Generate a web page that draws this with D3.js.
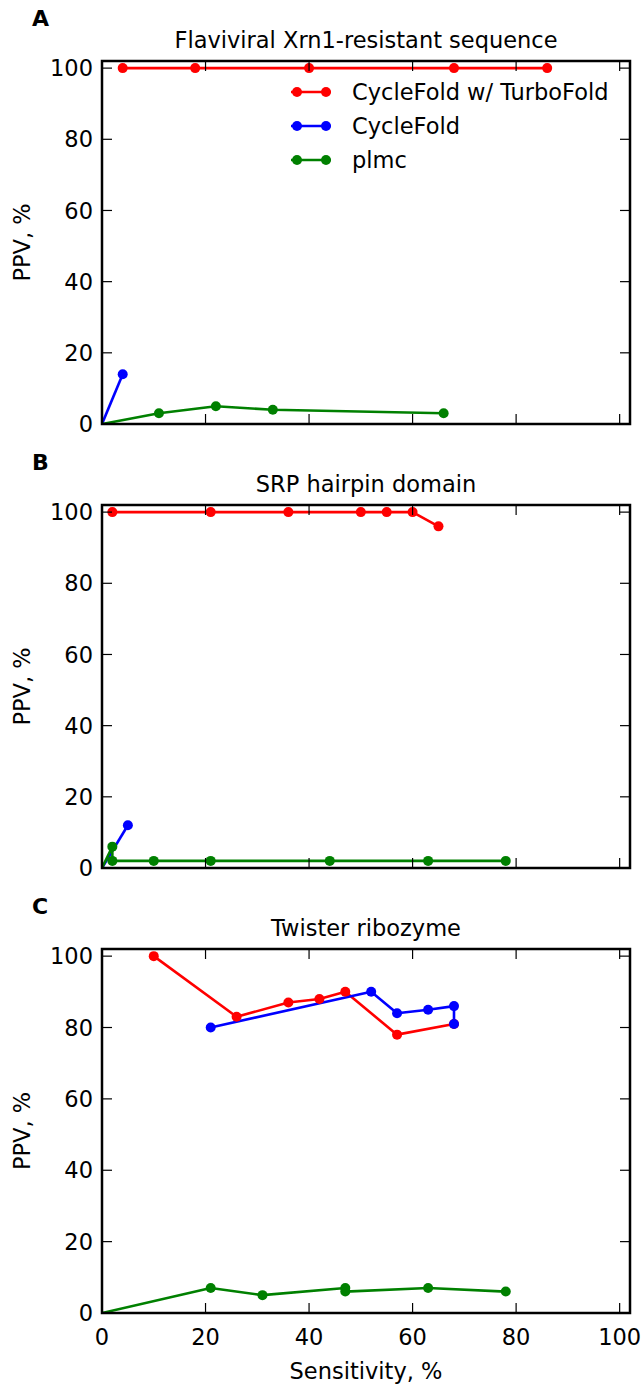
<!DOCTYPE html>
<html><head><meta charset="utf-8">
<script src="https://cdn.jsdelivr.net/npm/d3@7"></script>
<style>body{margin:0;background:#fff}svg{display:block}text{font-family:"DejaVu Sans",sans-serif}</style>
</head><body><svg id="c" width="641" height="1384"></svg>
<script>
const panelLetters = ["A", "B", "C"];
const panelTitles = ["Flaviviral Xrn1-resistant sequence", "SRP hairpin domain", "Twister ribozyme"];
const seriesNames = ["CycleFold w/ TurboFold", "CycleFold", "plmc"];
const seriesColors = ["#ff0000", "#0000ff", "#008000"];
const xTicks = [0, 20, 40, 60, 80, 100];
const yTicks = [0, 20, 40, 60, 80, 100];

// Panel A
const aTurbo = [[4,100],[18,100],[40,100],[68,100],[86,100]];
const aCycle = [[0,0],[4,14]];
const aPlmc = [[0,0],[11,3],[22,5],[33,4],[66,3]];
// Panel B
const bTurbo = [[2,100],[21,100],[36,100],[50,100],[55,100],[60,100],[65,96]];
const bCycle = [[0,0],[5,12]];
const bPlmc = [[0,0],[2,6],[2,2],[10,2],[21,2],[44,2],[63,2],[78,2]];
// Panel C
const cTurbo = [[10,100],[26,83],[36,87],[42,88],[47,90],[57,78],[68,81]];
const cCycle = [[21,80],[52,90],[57,84],[63,85],[68,86],[68,81]];
const cPlmc = [[0,0],[21,7],[31,5],[47,7],[47,6],[63,7],[78,6]];

const panels = [
  {series: [aTurbo, aCycle, aPlmc], top: 61, bottom: 424},
  {series: [bTurbo, bCycle, bPlmc], top: 505, bottom: 868},
  {series: [cTurbo, cCycle, cPlmc], top: 949, bottom: 1313}
];

const svg = d3.select("#c");
const left = 102, right = 630;
const fs = 22.5;
const x = d3.scaleLinear().domain([0, 102]).range([left, right]);

panels.forEach((p, i) => {
  const y = d3.scaleLinear().domain([0, 102]).range([p.bottom, p.top]);
  const g = svg.append("g");
  const tickLen = 10;
  const cid = "clip" + i;
  svg.append("clipPath").attr("id", cid).append("rect")
    .attr("x", left).attr("y", p.top).attr("width", right-left).attr("height", p.bottom-p.top);

  p.series.forEach((data, si) => {
    const sg = g.append("g").attr("clip-path", `url(#${cid})`);
    sg.append("path").datum(data)
      .attr("d", d3.line().x(d => x(d[0])).y(d => y(d[1])))
      .attr("fill", "none").attr("stroke", seriesColors[si]).attr("stroke-width", 2.6)
      .attr("stroke-linejoin", "round");
  });
  p.series.forEach((data, si) => {
    const sg = g.append("g");
    sg.selectAll("circle").data(data.filter(d => !(d[0] === 0 && d[1] === 0))).join("circle")
      .attr("cx", d => x(d[0])).attr("cy", d => y(d[1])).attr("r", 5)
      .attr("fill", seriesColors[si]);
  });

  const ax = g.append("g").attr("stroke", "#000").attr("stroke-width", 1.2);
  xTicks.forEach(t => {
    ax.append("line").attr("x1", x(t)).attr("x2", x(t)).attr("y1", p.bottom).attr("y2", p.bottom - tickLen);
    ax.append("line").attr("x1", x(t)).attr("x2", x(t)).attr("y1", p.top).attr("y2", p.top + tickLen);
  });
  yTicks.forEach(t => {
    ax.append("line").attr("y1", y(t)).attr("y2", y(t)).attr("x1", left).attr("x2", left + tickLen);
    ax.append("line").attr("y1", y(t)).attr("y2", y(t)).attr("x1", right).attr("x2", right - tickLen);
  });
  g.append("rect").attr("x", left).attr("y", p.top).attr("width", right-left).attr("height", p.bottom-p.top)
    .attr("fill", "none").attr("stroke", "#000").attr("stroke-width", 2.5);

  g.selectAll(".yl").data(yTicks).join("text")
    .attr("x", left - 9).attr("y", d => y(d)).attr("dy", "0.36em")
    .attr("text-anchor", "end").attr("font-size", fs).text(d => d);
  g.append("text").attr("transform", `translate(30,${(p.top+p.bottom)/2}) rotate(-90)`)
    .attr("text-anchor", "middle").attr("font-size", fs).text("PPV, %");
  g.append("text").attr("x", (left+right)/2).attr("y", p.top - 13)
    .attr("text-anchor", "middle").attr("font-size", fs).text(panelTitles[i]);
  g.append("text").attr("x", 32).attr("y", p.top - 35)
    .attr("font-size", 22).attr("font-weight", "bold").text(panelLetters[i]);

  if (i === 2) {
    g.selectAll(".xl").data(xTicks).join("text")
      .attr("x", d => x(d)).attr("y", p.bottom + 32)
      .attr("text-anchor", "middle").attr("font-size", fs).text(d => d);
    g.append("text").attr("x", (left+right)/2).attr("y", p.bottom + 66)
      .attr("text-anchor", "middle").attr("font-size", fs).text("Sensitivity, %");
  }

  if (i === 0) {
    const lg = g.append("g");
    seriesNames.forEach((n, si) => {
      const ly = 92 + si * 34;
      lg.append("line").attr("x1", 291).attr("x2", 331).attr("y1", ly).attr("y2", ly)
        .attr("stroke", seriesColors[si]).attr("stroke-width", 2.6);
      lg.append("circle").attr("cx", 297).attr("cy", ly).attr("r", 5).attr("fill", seriesColors[si]);
      lg.append("circle").attr("cx", 326).attr("cy", ly).attr("r", 5).attr("fill", seriesColors[si]);
      lg.append("text").attr("x", 352).attr("y", ly).attr("dy", "0.36em")
        .attr("font-size", fs).text(n);
    });
  }
});
</script></body></html>
